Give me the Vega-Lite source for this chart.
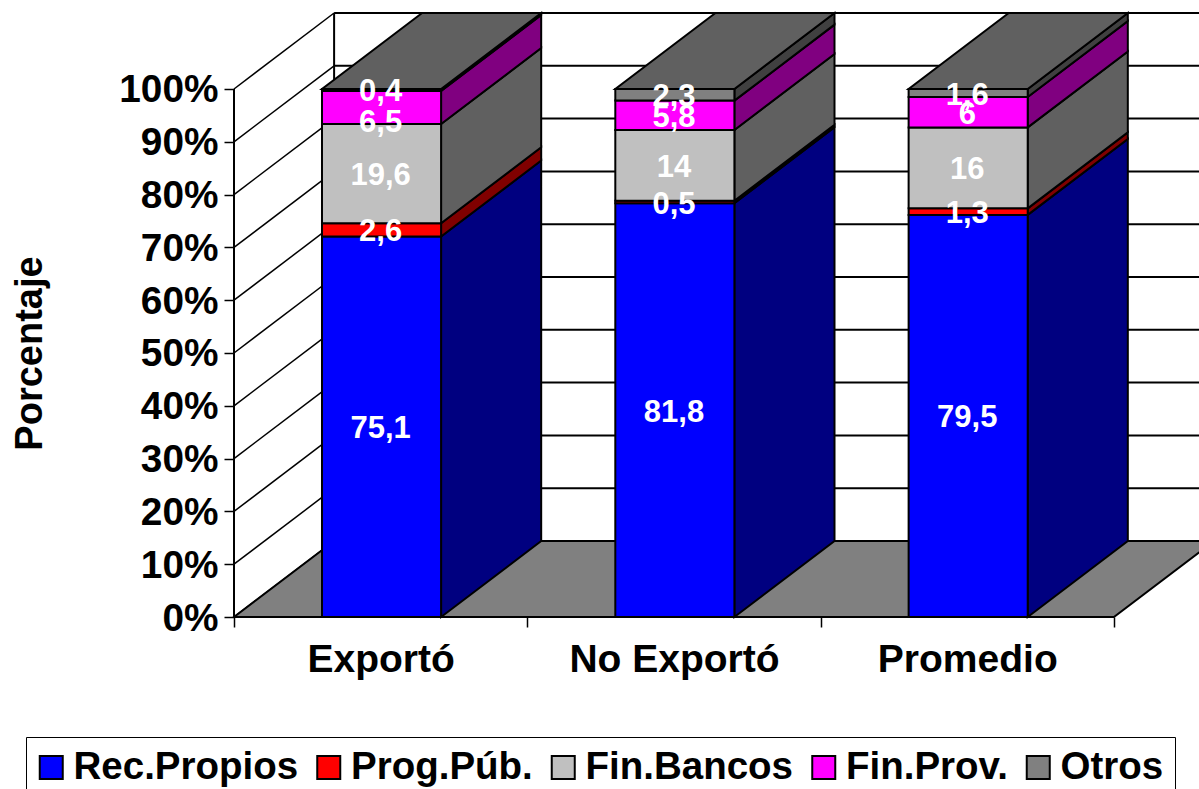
{
"$schema":"https://vega.github.io/schema/vega-lite/v6.json",
"width":965,"height":604,
"autosize":{"type":"none"},
"padding":{"left":234,"top":13,"right":0,"bottom":172},
"background":"white",
"config":{"view":{"stroke":null},"font":"Liberation Sans"},
"datasets":{
"segmentos":[
{"categoria":"Exportó","serie":"Rec.Propios","valor":75.1},
{"categoria":"Exportó","serie":"Prog.Púb.","valor":2.6},
{"categoria":"Exportó","serie":"Fin.Bancos","valor":19.6},
{"categoria":"Exportó","serie":"Fin.Prov.","valor":6.5},
{"categoria":"Exportó","serie":"Otros","valor":0.4},
{"categoria":"No Exportó","serie":"Rec.Propios","valor":81.8},
{"categoria":"No Exportó","serie":"Prog.Púb.","valor":0.5},
{"categoria":"No Exportó","serie":"Fin.Bancos","valor":14},
{"categoria":"No Exportó","serie":"Fin.Prov.","valor":5.8},
{"categoria":"No Exportó","serie":"Otros","valor":2.3},
{"categoria":"Promedio","serie":"Rec.Propios","valor":79.5},
{"categoria":"Promedio","serie":"Prog.Púb.","valor":1.3},
{"categoria":"Promedio","serie":"Fin.Bancos","valor":16},
{"categoria":"Promedio","serie":"Fin.Prov.","valor":6},
{"categoria":"Promedio","serie":"Otros","valor":1.6}
],
"marcas":[{"v":0},{"v":0.1},{"v":0.2},{"v":0.3},{"v":0.4},{"v":0.5},{"v":0.6},{"v":0.7},{"v":0.8},{"v":0.9},{"v":1}]
},
"encoding":{
"x":{"field":"px","type":"quantitative","scale":{"domain":[0,3.29],"nice":false,"zero":false},
"axis":{"title":null,"domain":false,"grid":false,"values":[0,0.5,1,1.5,2,2.5,3],
"labelExpr":"datum.value==0.5?'Exportó':datum.value==1.5?'No Exportó':datum.value==2.5?'Promedio':''",
"tickOpacity":{"condition":{"test":"datum.value % 1 == 0","value":1},"value":0},
"tickSize":10,"tickWidth":1.5,"tickColor":"black","labelPadding":13,"labelFontSize":39,"labelFontWeight":"bold","labelColor":"black","labelFont":"Liberation Sans","labelOverlap":false,"labelFlush":false,"labelLimit":400}},
"y":{"field":"py","type":"quantitative","stack":null,"scale":{"domain":[0,1.1439],"nice":false,"zero":false},
"axis":{"title":"Porcentaje","titleFontSize":38,"titleFontWeight":"bold","titleColor":"black","titleFont":"Liberation Sans","titleX":-185,"titleY":340,"domain":false,"grid":false,"values":[0,0.1,0.2,0.3,0.4,0.5,0.6,0.7,0.8,0.9,1],"format":".0%","tickSize":10,"tickWidth":1.5,"tickColor":"black","labelPadding":6,"labelOffset":1,"labelFontSize":38.8,"labelFontWeight":"bold","labelColor":"black","labelFont":"Liberation Sans","labelOverlap":false,"labelFlush":false}}
},
"layer":[
{"data":{"name":"marcas"},
"transform":[{"calculate":"0","as":"px"},{"calculate":"0.3413","as":"px2"},{"calculate":"datum.v","as":"py"},{"calculate":"datum.v+0.1439","as":"py2"}],
"mark":{"type":"rule","color":"black","strokeWidth":1.5},
"encoding":{"x2":{"field":"px2"},"y2":{"field":"py2"}}},
{"data":{"name":"marcas"},
"transform":[{"calculate":"0.3413","as":"px"},{"calculate":"3.5","as":"px2"},{"calculate":"datum.v+0.1439","as":"py"}],
"mark":{"type":"rule","color":"black","strokeWidth":2},
"encoding":{"x2":{"field":"px2"}}},
{"data":{"values":[{"borde":"frontal"},{"borde":"fondo"}]},
"transform":[{"calculate":"datum.borde=='frontal'?0:0.3413","as":"px"},{"calculate":"datum.borde=='frontal'?0:0.1439","as":"py"},{"calculate":"datum.py+1","as":"py2"}],
"mark":{"type":"rule","color":"black","strokeWidth":2},
"encoding":{"y2":{"field":"py2"}}},
{"data":{"values":[{"plano":"suelo"}]},
"transform":[{"calculate":"[0,1]","as":"t"},{"flatten":["t"]},{"calculate":"datum.t*0.3413","as":"px"},{"calculate":"3+datum.t*0.3413","as":"px2"},{"calculate":"datum.t*0.1439","as":"py"}],
"mark":{"type":"area","orient":"horizontal","color":"#808080","stroke":"black","strokeWidth":2},
"encoding":{"x2":{"field":"px2"}}},
{"data":{"name":"segmentos"},
"transform":[
{"calculate":"indexof(['Rec.Propios','Prog.Púb.','Fin.Bancos','Fin.Prov.','Otros'],datum.serie)","as":"orden"},
{"calculate":"indexof(['Exportó','No Exportó','Promedio'],datum.categoria)","as":"idx"},
{"stack":"valor","groupby":["categoria"],"sort":[{"field":"orden","order":"ascending"}],"offset":"normalize","as":["y0","y1"]},
{"calculate":"[0,1]","as":"t"},{"flatten":["t"]},
{"calculate":"datum.idx+0.706+datum.t*0.3413","as":"px"},
{"calculate":"datum.y0+datum.t*0.1439","as":"py"},
{"calculate":"datum.y1+datum.t*0.1439","as":"py2"},
{"calculate":"datum.categoria+datum.serie","as":"clave"}],
"mark":{"type":"area","stroke":"black","strokeWidth":2},
"encoding":{"y2":{"field":"py2"},"detail":{"field":"clave"},
"color":{"field":"serie","type":"nominal","legend":null,"scale":{"domain":["Otros","Fin.Prov.","Fin.Bancos","Prog.Púb.","Rec.Propios"],"range":["#404040","#800080","#606060","#800000","#000080"]}}}},
{"data":{"name":"segmentos"},
"transform":[
{"filter":"datum.serie=='Otros'"},
{"calculate":"indexof(['Exportó','No Exportó','Promedio'],datum.categoria)","as":"idx"},
{"calculate":"[0,1]","as":"t"},{"flatten":["t"]},
{"calculate":"datum.idx+0.3+datum.t*0.3413","as":"px"},
{"calculate":"datum.idx+0.706+datum.t*0.3413","as":"px2"},
{"calculate":"1+datum.t*0.1439","as":"py"}],
"mark":{"type":"area","orient":"horizontal","color":"#606060","stroke":"black","strokeWidth":2},
"encoding":{"x2":{"field":"px2"},"detail":{"field":"categoria"}}},
{"data":{"name":"segmentos"},
"transform":[
{"calculate":"indexof(['Rec.Propios','Prog.Púb.','Fin.Bancos','Fin.Prov.','Otros'],datum.serie)","as":"orden"},
{"calculate":"indexof(['Exportó','No Exportó','Promedio'],datum.categoria)","as":"idx"},
{"stack":"valor","groupby":["categoria"],"sort":[{"field":"orden","order":"ascending"}],"offset":"normalize","as":["y0","y1"]},
{"calculate":"datum.idx+0.3","as":"px"},{"calculate":"datum.idx+0.706","as":"px2"},
{"calculate":"datum.y0","as":"py"},{"calculate":"datum.y1","as":"py2"}],
"mark":{"type":"rect","stroke":"black","strokeWidth":2},
"encoding":{"x2":{"field":"px2"},"y2":{"field":"py2"},
"fill":{"field":"serie","type":"nominal",
"scale":{"domain":["Rec.Propios","Prog.Púb.","Fin.Bancos","Fin.Prov.","Otros"],"range":["#0000ff","#ff0000","#c0c0c0","#ff00ff","#808080"]},
"legend":{"title":null,"orient":"none","legendX":-208,"legendY":724,"direction":"horizontal","columns":5,"columnPadding":13.5,"labelOffset":3,"symbolOffset":-5,"padding":11,"symbolType":"square","symbolSize":529,"symbolStrokeColor":"black","symbolStrokeWidth":2,"symbolOpacity":1,"fillColor":"white","strokeColor":"black","labelFontSize":38.5,"labelFontWeight":"bold","labelColor":"black","labelFont":"Liberation Sans","labelLimit":400}}}},
{"data":{"name":"segmentos"},
"transform":[
{"calculate":"indexof(['Rec.Propios','Prog.Púb.','Fin.Bancos','Fin.Prov.','Otros'],datum.serie)","as":"orden"},
{"calculate":"indexof(['Exportó','No Exportó','Promedio'],datum.categoria)","as":"idx"},
{"stack":"valor","groupby":["categoria"],"sort":[{"field":"orden","order":"ascending"}],"offset":"normalize","as":["y0","y1"]},
{"calculate":"datum.idx+0.5","as":"px"},
{"calculate":"(datum.y0+datum.y1)/2-(datum.categoria=='Exportó'&&datum.serie=='Fin.Prov.'?0.025:0)","as":"py"},
{"calculate":"replace(toString(datum.valor),'.',',')","as":"etiqueta"}],
"mark":{"type":"text","color":"white","fontSize":31,"fontWeight":"bold","font":"Liberation Sans","baseline":"middle","align":"center","dy":2.5},
"encoding":{"text":{"field":"etiqueta"}}}
]
}
